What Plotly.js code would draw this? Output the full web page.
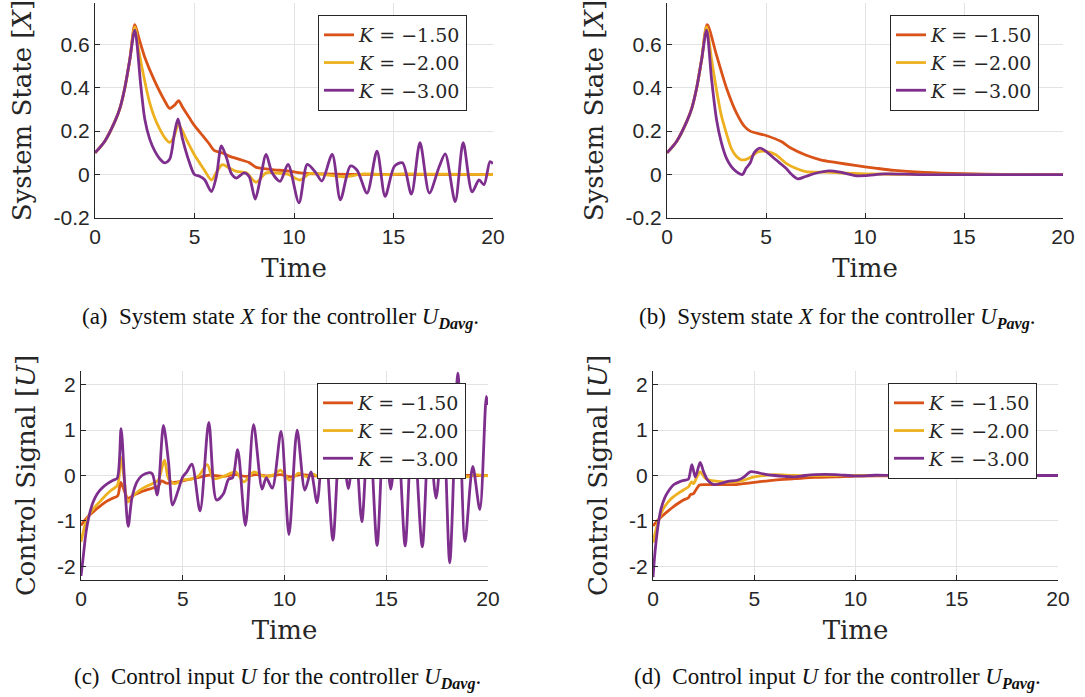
<!DOCTYPE html>
<html>
<head>
<meta charset="utf-8">
<script src="https://cdn.plot.ly/plotly-3.0.1.min.js"></script>
<style>html,body{margin:0;padding:0;background:#fff;}#chart{width:1085px;height:697px;}</style>
</head>
<body>
<div id="chart"></div>
<script>
// ---------- Data ----------
const seriesNames = ["K = −1.50", "K = −2.00", "K = −3.00"];
const xTicks = [0, 5, 10, 15, 20];
const stateTicks = [-0.2, 0, 0.2, 0.4, 0.6];
const stateTickText = ["-0.2", "0", "0.2", "0.4", "0.6"];
const signalTicks = [-2, -1, 0, 1, 2];
const signalTickText = ["-2", "-1", "0", "1", "2"];

// (a) System state X, controller U_Davg
const tA15 = [0, 0.5, 1.0, 1.25, 1.5, 1.75, 2.0, 2.2, 2.5, 3.0, 3.5, 3.75, 4.0, 4.2, 4.4, 4.75, 5.0, 5.4, 5.75, 6.0, 6.4, 6.75, 7.25, 7.75, 8.1, 8.5, 9.0, 9.75, 10.5, 11.5, 13, 20];
const xA15 = [0.10, 0.155, 0.245, 0.305, 0.40, 0.53, 0.69, 0.63, 0.54, 0.43, 0.34, 0.305, 0.32, 0.34, 0.31, 0.26, 0.225, 0.18, 0.14, 0.11, 0.10, 0.085, 0.07, 0.055, 0.033, 0.027, 0.022, 0.016, 0.006, 0.003, 0.001, 0];
const tA20 = [0, 0.5, 1.0, 1.25, 1.5, 1.75, 2.0, 2.2, 2.5, 2.75, 3.0, 3.25, 3.5, 3.75, 3.95, 4.2, 4.6, 5.0, 5.25, 5.5, 5.85, 6.1, 6.4, 6.75, 7.1, 7.6, 8.1, 8.6, 9.2, 9.75, 10.3, 10.8, 11.5, 12.5, 13.5, 14.5, 15.5, 17, 18.5, 20];
const xA20 = [0.10, 0.155, 0.245, 0.305, 0.40, 0.53, 0.68, 0.57, 0.43, 0.33, 0.26, 0.21, 0.17, 0.148, 0.17, 0.23, 0.16, 0.09, 0.055, 0.02, -0.025, 0.01, 0.046, 0.03, 0.015, 0.008, -0.035, 0.008, 0.006, 0.0, -0.025, 0.005, 0.0, -0.01, 0.003, 0, 0.003, 0.002, 0.001, 0];
const tA30 = [0, 0.5, 1.0, 1.25, 1.5, 1.75, 2.0, 2.3, 2.5, 2.75, 3.0, 3.25, 3.5, 3.75, 4.0, 4.17, 4.4, 4.75, 5.0, 5.25, 5.5, 5.85, 6.1, 6.35, 6.6, 6.85, 7.1, 7.5, 7.75, 8.05, 8.3, 8.6, 8.9, 9.3, 9.7, 10.25, 10.67, 11.1, 11.4, 11.92, 12.33, 12.83, 13.17, 13.67, 14.17, 14.58, 15.05, 15.45, 15.9, 16.33, 16.8, 17.3, 17.6, 18.1, 18.5, 18.95, 19.3, 19.55, 19.85, 20];
const xA30 = [0.10, 0.155, 0.245, 0.305, 0.40, 0.53, 0.665, 0.41, 0.256, 0.163, 0.109, 0.073, 0.054, 0.07, 0.194, 0.256, 0.163, 0.054, 0.0, -0.008, -0.023, -0.078, -0.008, 0.132, 0.08, 0.005, -0.016, 0.008, -0.01, -0.113, -0.023, 0.093, 0.008, -0.031, 0.047, -0.13, 0.047, 0.008, -0.03, 0.093, -0.116, 0.039, 0.02, -0.085, 0.108, -0.1, 0.039, 0.054, -0.09, 0.147, -0.085, 0.037, 0.095, -0.125, 0.147, -0.08, -0.025, -0.047, 0.06, 0.05];

// (b) System state X, controller U_Pavg
const tB15 = [0, 0.5, 1.0, 1.25, 1.5, 1.75, 2.03, 2.5, 3.0, 3.5, 3.9, 4.2, 5.0, 5.75, 6.25, 7.0, 7.75, 8.5, 9.5, 10.5, 11.5, 13, 15, 17, 20];
const xB15 = [0.10, 0.155, 0.245, 0.305, 0.40, 0.53, 0.69, 0.55, 0.40, 0.285, 0.223, 0.20, 0.18, 0.153, 0.122, 0.09, 0.068, 0.056, 0.042, 0.03, 0.019, 0.01, 0.004, 0.001, 0];
const tB20 = [0, 0.5, 1.0, 1.25, 1.5, 1.75, 2.0, 2.25, 2.5, 2.75, 3.0, 3.25, 3.5, 3.75, 4.0, 4.25, 4.6, 5.0, 5.5, 6.0, 6.5, 7.0, 8.0, 9.0, 10, 12, 20];
const xB20 = [0.10, 0.155, 0.245, 0.305, 0.40, 0.53, 0.68, 0.53, 0.39, 0.27, 0.19, 0.12, 0.084, 0.068, 0.07, 0.082, 0.105, 0.107, 0.091, 0.053, 0.029, 0.014, 0.011, 0.006, 0.003, 0.001, 0];
const tB30 = [0, 0.5, 1.0, 1.25, 1.5, 1.75, 2.0, 2.25, 2.5, 2.75, 3.0, 3.25, 3.5, 3.8, 4.0, 4.2, 4.4, 4.7, 5.0, 5.5, 6.0, 6.3, 6.6, 7.0, 7.5, 8.2, 8.75, 9.5, 10, 11, 12, 13, 20];
const xB30 = [0.10, 0.155, 0.245, 0.305, 0.40, 0.53, 0.665, 0.44, 0.254, 0.146, 0.076, 0.037, 0.014, 0.0, 0.03, 0.053, 0.10, 0.122, 0.107, 0.068, 0.03, 0.0, -0.02, -0.009, 0.006, 0.017, 0.011, -0.005, -0.005, 0.003, 0.002, 0.0, 0];

// (c) Control input U, controller U_Davg
const tC15 = [0, 0.25, 0.5, 0.75, 1.0, 1.25, 1.5, 1.8, 1.95, 2.1, 2.3, 2.6, 3.0, 3.5, 3.8, 3.95, 4.2, 4.5, 5.0, 5.5, 6.0, 6.3, 7.0, 7.6, 8.1, 8.6, 9.2, 9.8, 10.3, 10.8, 11.5, 12.3, 13, 14, 15, 17, 20];
const uC15 = [-1.10, -0.95, -0.84, -0.74, -0.65, -0.57, -0.51, -0.45, -0.15, -0.3, -0.5, -0.43, -0.35, -0.28, -0.24, -0.12, -0.17, -0.16, -0.12, -0.07, -0.02, 0.01, -0.02, 0.02, -0.02, 0.02, -0.01, 0.02, -0.03, 0.02, -0.01, -0.02, 0.0, 0.01, 0, 0, 0];
const tC20 = [0, 0.25, 0.5, 0.75, 1.0, 1.25, 1.5, 1.8, 1.95, 2.1, 2.3, 2.6, 3.0, 3.5, 3.8, 4.1, 4.3, 4.6, 5.0, 5.5, 5.8, 6.2, 6.5, 7.0, 7.6, 8.0, 8.5, 9.0, 9.5, 9.8, 10.25, 10.7, 11.1, 11.4, 11.8, 12.2, 12.6, 13.0, 13.5, 13.9, 14.3, 14.7, 15.1, 15.5, 15.9, 16.3, 16.7, 17.1, 17.5, 17.9, 18.2, 18.6, 19.0, 19.4, 19.8, 20];
const uC20 = [-1.46, -1.02, -0.80, -0.66, -0.54, -0.42, -0.32, -0.21, 0.41, 0.0, -0.58, -0.43, -0.29, -0.18, -0.10, 0.34, -0.07, -0.18, -0.10, -0.07, 0.0, 0.24, -0.07, -0.02, 0.08, -0.14, 0.08, -0.02, 0.02, 0.12, -0.10, 0.05, -0.03, 0.03, -0.05, 0.04, -0.06, 0.04, -0.04, 0.04, -0.05, 0.03, -0.03, 0.02, -0.04, 0.04, -0.04, 0.03, -0.03, 0.03, -0.05, 0.04, -0.03, 0.02, -0.01, 0];
const tC30 = [0, 0.1, 0.25, 0.4, 0.6, 0.8, 1.0, 1.3, 1.6, 1.78, 1.97, 2.15, 2.32, 2.5, 2.75, 3.0, 3.3, 3.5, 3.75, 4.05, 4.3, 4.5, 4.75, 5.0, 5.2, 5.45, 5.85, 6.28, 6.66, 7.0, 7.25, 7.45, 7.7, 8.08, 8.48, 8.9, 9.1, 9.4, 9.83, 10.22, 10.62, 11.0, 11.3, 11.6, 11.95, 12.38, 12.75, 13.14, 13.45, 13.8, 14.15, 14.55, 14.9, 15.22, 15.55, 15.93, 16.3, 16.77, 17.1, 17.45, 17.8, 18.12, 18.52, 18.87, 19.25, 19.6, 19.92, 20];
const uC30 = [-2.21, -1.83, -1.24, -0.88, -0.58, -0.40, -0.29, -0.18, -0.10, -0.06, 1.03, -0.2, -1.12, -0.5, -0.14, 0.0, 0.06, 0.04, -0.43, 1.10, 0.3, -0.65, -0.36, -0.03, 0.08, 0.25, -0.78, 1.17, -0.54, -0.40, -0.08, -0.05, 0.57, -1.10, 1.12, -0.30, -0.05, -0.28, 0.97, -1.30, 1.0, -0.32, 0.08, -0.60, 1.10, -1.42, 1.0, -0.29, 0.9, -1.02, 1.3, -1.54, 1.2, -0.30, 1.0, -1.55, 1.4, -1.57, 0.9, -0.50, 1.2, -1.92, 2.25, -1.45, 0.2, -0.75, 1.74, 1.55];

// (d) Control input U, controller U_Pavg
const tD15 = [0, 0.25, 0.5, 0.75, 1.0, 1.25, 1.5, 1.75, 1.85, 2.0, 2.1, 2.3, 2.5, 3.0, 4.0, 5.0, 6.0, 7.0, 8.0, 9.0, 10.0, 12, 15, 20];
const uD15 = [-1.11, -0.98, -0.875, -0.78, -0.69, -0.61, -0.54, -0.49, -0.42, -0.40, -0.33, -0.21, -0.20, -0.20, -0.20, -0.15, -0.10, -0.07, -0.04, -0.03, -0.015, -0.005, 0, 0];
const tD20 = [0, 0.25, 0.5, 0.75, 1.0, 1.25, 1.5, 1.75, 1.9, 2.0, 2.15, 2.33, 2.6, 3.0, 3.5, 4.0, 4.5, 5.0, 5.5, 6.0, 7.0, 8.0, 20];
const uD20 = [-1.48, -1.02, -0.74, -0.58, -0.47, -0.39, -0.32, -0.25, -0.14, -0.18, -0.05, 0.08, -0.07, -0.12, -0.14, -0.14, -0.10, -0.03, 0.0, 0.02, 0.0, 0.0, 0];
const tD30 = [0, 0.1, 0.25, 0.4, 0.6, 0.8, 1.0, 1.3, 1.6, 1.75, 1.92, 2.09, 2.33, 2.5, 2.7, 3.0, 3.3, 3.7, 4.2, 4.5, 4.8, 5.1, 5.5, 6.0, 6.5, 7.0, 7.5, 8.0, 9.0, 10.0, 11.0, 12, 20];
const uD30 = [-2.24, -1.68, -1.10, -0.73, -0.47, -0.32, -0.21, -0.14, -0.10, -0.08, 0.24, -0.03, 0.29, 0.08, -0.10, -0.20, -0.18, -0.13, -0.10, -0.03, 0.08, 0.07, 0.03, 0.0, -0.02, -0.03, 0.0, 0.02, 0.02, -0.01, 0.005, 0, 0];

// ---------- Styling ----------
const colors = ["#D95319", "#EDB120", "#7E2F8E"];
const mathSerif = "DejaVu Serif, Liberation Serif, serif";
const textSerif = "Liberation Serif, Times New Roman, serif";
const sans = "Liberation Sans, Arial, sans-serif";
const W = 1085, H = 697;

const panels = [
  {xa: "x",  ya: "y",  lg: "legend",  t: [tA15, tA20, tA30], v: [xA15, xA20, xA30]},
  {xa: "x2", ya: "y2", lg: "legend2", t: [tB15, tB20, tB30], v: [xB15, xB20, xB30]},
  {xa: "x3", ya: "y3", lg: "legend3", t: [tC15, tC20, tC30], v: [uC15, uC20, uC30]},
  {xa: "x4", ya: "y4", lg: "legend4", t: [tD15, tD20, tD30], v: [uD15, uD20, uD30]}
];

const traces = [];
panels.forEach(p => {
  for (let i = 0; i < 3; i++) {
    traces.push({
      type: "scatter", mode: "lines",
      x: p.t[i], y: p.v[i],
      xaxis: p.xa, yaxis: p.ya,
      name: "<i>K</i> = " + seriesNames[i].split("= ")[1],
      legend: p.lg,
      line: {color: colors[i], width: 2.8, shape: "spline", smoothing: 0.8},
      hoverinfo: "skip"
    });
  }
});

function xAxis(d0, d1, anchor) {
  return {
    domain: [d0 / W, d1 / W], anchor: anchor, range: [0, 20],
    tickvals: xTicks, ticktext: xTicks.map(String),
    showgrid: true, gridcolor: "#e3e3e3", gridwidth: 1,
    zeroline: false, showline: true, linecolor: "#262626", linewidth: 1,
    ticks: "inside", ticklen: 5, tickcolor: "#262626",
    tickfont: {family: sans, size: 21, color: "#262626"},
    title: {text: "Time", font: {family: mathSerif, size: 26, color: "#262626"}, standoff: 11},
    automargin: false, fixedrange: true
  };
}
function yAxis(top, bottom, anchor, range, tv, tt, title, standoff) {
  return {
    domain: [1 - bottom / H, 1 - top / H], anchor: anchor, range: range,
    tickvals: tv, ticktext: tt,
    showgrid: true, gridcolor: "#e3e3e3", gridwidth: 1,
    zeroline: false, showline: true, linecolor: "#262626", linewidth: 1,
    ticks: "inside", ticklen: 5, tickcolor: "#262626",
    tickfont: {family: sans, size: 21, color: "#262626"},
    title: {text: title, font: {family: mathSerif, size: 26, color: "#262626"}, standoff: standoff},
    automargin: false, fixedrange: true
  };
}
function legendAt(px, py) {
  return {
    x: px / W, y: 1 - py / H, xanchor: "left", yanchor: "top",
    bgcolor: "#ffffff", bordercolor: "#262626", borderwidth: 1,
    font: {family: mathSerif, size: 19, color: "#262626"},
    tracegroupgap: 0, itemclick: false, itemdoubleclick: false
  };
}
function caption(text, cx, cy) {
  return {text: text, x: cx / W, y: 1 - cy / H, xref: "paper", yref: "paper",
    xanchor: "center", yanchor: "middle", showarrow: false,
    font: {family: textSerif, size: 23, color: "#111111"}};
}

const layout = {
  width: W, height: H,
  margin: {l: 0, r: 0, t: 0, b: 0},
  paper_bgcolor: "#ffffff", plot_bgcolor: "#ffffff",
  showlegend: true,
  xaxis:  xAxis(95, 493, "y"),
  xaxis2: xAxis(667, 1063, "y2"),
  xaxis3: xAxis(81, 488, "y3"),
  xaxis4: xAxis(653, 1058, "y4"),
  yaxis:  yAxis(3, 218, "x",  [-0.2, 0.79], stateTicks, stateTickText, "System State [<i>X</i>]", 14),
  yaxis2: yAxis(3, 218, "x2", [-0.2, 0.79], stateTicks, stateTickText, "System State [<i>X</i>]", 14),
  yaxis3: yAxis(371, 580, "x3", [-2.3, 2.3], signalTicks, signalTickText, "Control Signal [<i>U</i>]", 14),
  yaxis4: yAxis(371, 580, "x4", [-2.3, 2.3], signalTicks, signalTickText, "Control Signal [<i>U</i>]", 14),
  legend:  legendAt(318, 15),
  legend2: legendAt(890, 15),
  legend3: legendAt(317, 383),
  legend4: legendAt(888, 383),
  annotations: [
    caption("(a)\u00a0 System state <i>X</i> for the controller <i>U</i><sub><b><i>Davg</i></b></sub>.", 280, 318),
    caption("(b)\u00a0 System state <i>X</i> for the controller <i>U</i><sub><b><i>Pavg</i></b></sub>.", 837, 318),
    caption("(c)\u00a0 Control input <i>U</i> for the controller <i>U</i><sub><b><i>Davg</i></b></sub>.", 277, 678),
    caption("(d)\u00a0 Control input <i>U</i> for the controller <i>U</i><sub><b><i>Pavg</i></b></sub>.", 837, 678)
  ]
};

Plotly.newPlot("chart", traces, layout, {staticPlot: true, displayModeBar: false});
</script>
</body>
</html>
